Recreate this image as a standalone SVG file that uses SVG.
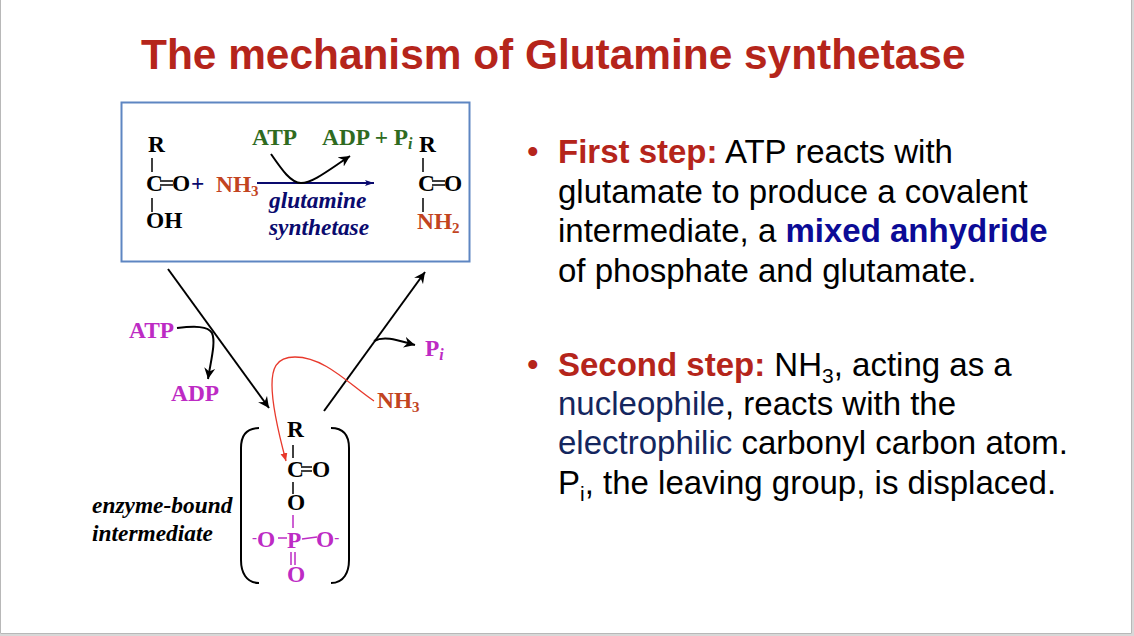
<svg xmlns="http://www.w3.org/2000/svg" width="1134" height="636" viewBox="0 0 1134 636">
<style>
.s{font-family:"Liberation Serif","Times New Roman",serif;font-weight:700;font-size:23.4px}
.i{font-style:italic}
.k{fill:#000}.g{fill:#2f6b1f}.o{fill:#c2441f}.n{fill:#0a0a6e}.m{fill:#bd2bc4}
.t{font-family:"Liberation Sans",Arial,sans-serif;font-size:33px;fill:#000}
.r{fill:#b5251b;font-weight:700}.b{fill:#0b0b96;font-weight:700}.d{fill:#14265e}
.h{font-family:"Liberation Sans",Arial,sans-serif;font-weight:700;font-size:42.4px;fill:#b5251b}
.l{fill:none;stroke:#000;stroke-width:1.5}
.a{fill:none;stroke:#000;stroke-width:2}
.pl{fill:none;stroke:#bd2bc4;stroke-width:1.5}
</style>
<defs>
<marker id="ah" markerWidth="14" markerHeight="12" refX="11" refY="6" orient="auto" markerUnits="userSpaceOnUse"><path d="M0 0.500L11 6L0 11.500L3.500 6Z" fill="#000"/></marker>
<marker id="ahn" markerWidth="10" markerHeight="8" refX="9" refY="3" orient="auto" markerUnits="userSpaceOnUse"><path d="M0 0L9 3L0 6L2 3Z" fill="#0a0a6e"/></marker>
<marker id="ahr" markerWidth="9" markerHeight="10" refX="8" refY="3.5" orient="auto" markerUnits="userSpaceOnUse"><path d="M0 0L8 3.5L0 7Z" fill="#e8392c"/></marker>
</defs>
<rect width="1134" height="636" fill="#fff"/>
<path d="M0.5 0V633.5H1131.5V0" fill="none" stroke="#b8b8b8"/>
<rect x="0" y="634" width="1134" height="2" fill="#d8d8d8"/>
<rect x="1132" y="0" width="2" height="636" fill="#d8d8d8"/>
<text class="h" x="141" y="68.500">The mechanism of Glutamine synthetase</text>
<g id="reaction-box">
<rect x="121.500" y="102.500" width="348" height="159" fill="#fff" stroke="#5e86c2" stroke-width="2"/>
<text class="s k" x="148" y="152">R</text>
<path class="l" d="M152 158V172"/>
<text class="s k" x="146" y="191">C</text><path class="l" d="M160 181H173M160 185H173"/><text class="s k" x="172" y="191">O</text>
<text class="s n" x="191" y="191">+</text>
<path class="l" d="M152 198V212"/>
<text class="s k" x="146" y="228">OH</text>
<text class="s o" x="216" y="192">NH<tspan font-size="15" dy="4">3</tspan></text>
<text class="s g" x="252" y="145">ATP</text>
<text class="s g" x="322" y="145">ADP + P<tspan class="i" font-size="16" dy="4">i</tspan></text>
<text class="s k" x="419" y="152">R</text>
<path class="l" d="M423 158V172"/>
<text class="s k" x="418" y="191">C</text><path class="l" d="M432 181H445M432 185H445"/><text class="s k" x="444" y="191">O</text>
<path class="l" d="M423 198V212"/>
<text class="s o" x="417" y="229">NH<tspan font-size="15" dy="4">2</tspan></text>
<text class="s n i" x="269" y="208">glutamine</text>
<text class="s n i" x="269" y="235">synthetase</text>
</g>
<g id="intermediate">
<text class="s k" x="287" y="437">R</text>
<path class="l" d="M293 445V458"/>
<text class="s k" x="287" y="477">C</text><path class="l" d="M301 467H312M301 471H312"/><text class="s k" x="312" y="477">O</text>
<path class="l" d="M293 482V494"/>
<text class="s k" x="287" y="510">O</text>
<path class="pl" d="M293 515V528"/>
<text class="s m" x="252" y="547"><tspan font-size="15" dy="-5">-</tspan><tspan dy="5">O</tspan></text>
<path class="pl" d="M278 538H287M302 539L317 537"/>
<text class="s m" x="287" y="548">P</text>
<text class="s m" x="316" y="547">O<tspan font-size="15" dy="-5">-</tspan></text>
<path class="pl" d="M291 552V565M295 552V565"/>
<text class="s m" x="287" y="582">O</text>
<path class="a" d="M259 428C246 428 241 436 241 448V560C241 572 246 583 259 583"/>
<path class="a" d="M331 428C344 428 349 436 349 448V560C349 572 344 583 331 583"/>
<text class="s k i" x="92" y="513">enzyme-bound</text>
<text class="s k i" x="92" y="541">intermediate</text>
</g>
<g id="labels">
<text class="s m" x="129" y="338">ATP</text>
<text class="s m" x="171" y="401">ADP</text>
<text class="s m" x="425" y="356">P<tspan class="i" font-size="16" dy="4">i</tspan></text>
<text class="s o" x="377" y="408">NH<tspan font-size="15" dy="4">3</tspan></text>
</g>
<g id="connectors">
<path d="M257 183H374" fill="none" stroke="#0a0a6e" stroke-width="2" marker-end="url(#ahn)"/>
<path class="a" d="M271 154C282 170 291 183 301 183C313 183 330 169 350 156" marker-end="url(#ah)"/>
<path class="a" d="M168 269L269 408" marker-end="url(#ah)"/>
<path class="a" d="M324 411L425 272" marker-end="url(#ah)"/>
<path class="a" d="M177 328C195 326 208 326 212 333C216 342 211 360 208 379" marker-end="url(#ah)"/>
<path class="a" d="M374 341C385 335 400 341 415 345" marker-end="url(#ah)"/>
<path d="M374 401C350 385 325 357 295 357C275 357 272 370 272 385C272 405 279 435 286 461" fill="none" stroke="#e8392c" stroke-width="1.300" marker-end="url(#ahr)"/>
</g>
<g id="bullets">
<text class="t" x="527" y="163" style="fill:#b5251b">•</text>
<text class="t" x="558" y="163"><tspan class="r">First step:</tspan> ATP reacts with</text>
<text class="t" x="558" y="203">glutamate to produce a covalent</text>
<text class="t" x="558" y="242">intermediate, a <tspan class="b">mixed anhydride</tspan></text>
<text class="t" x="558" y="282">of phosphate and glutamate.</text>
<text class="t" x="527" y="376" style="fill:#b5251b">•</text>
<text class="t" x="558" y="376"><tspan class="r">Second step:</tspan> NH<tspan font-size="21" dy="7">3</tspan><tspan dy="-7">, acting as a</tspan></text>
<text class="t" x="558" y="415"><tspan class="d">nucleophile</tspan>, reacts with the</text>
<text class="t" x="558" y="454"><tspan class="d">electrophilic</tspan> carbonyl carbon atom.</text>
<text class="t" x="558" y="494">P<tspan font-size="21" dy="7">i</tspan><tspan dy="-7">, the leaving group, is displaced.</tspan></text>
</g>
</svg>
